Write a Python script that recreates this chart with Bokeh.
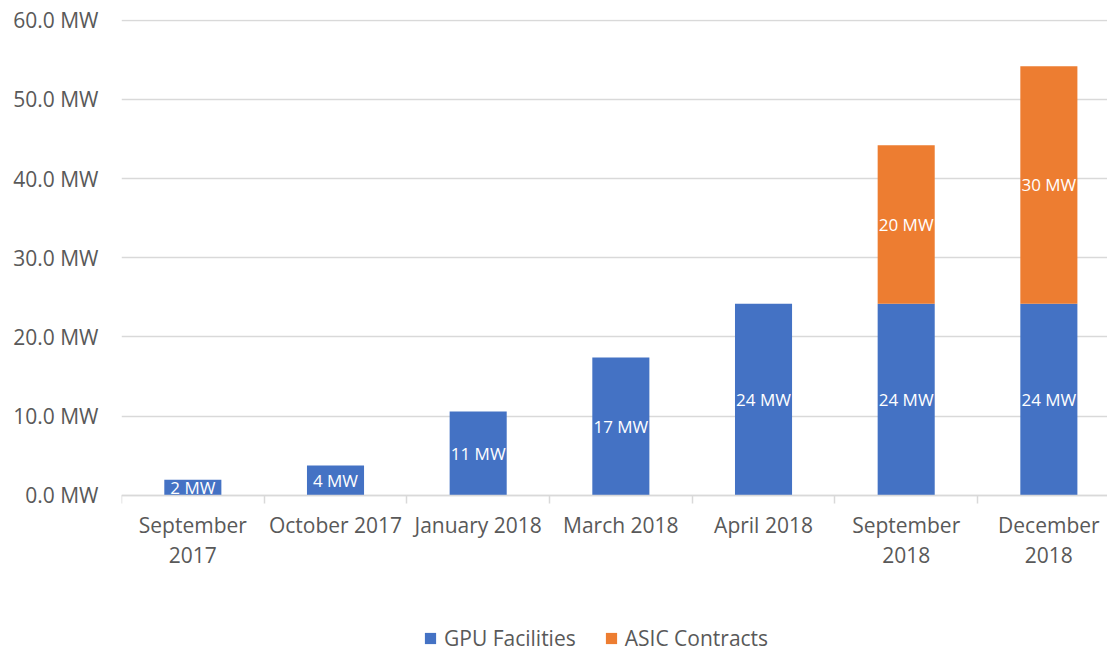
from bokeh.plotting import figure
from bokeh.models import ColumnDataSource, Range1d, FixedTicker, LabelSet, Legend, LegendItem
from bokeh.core.properties import value
from bokeh.embed import file_html
from bokeh.resources import INLINE

categories = ["September\n2017", "October 2017", "January 2018", "March 2018",
              "April 2018", "September\n2018", "December\n2018"]
gpu = [1.95, 3.76, 10.56, 17.4, 24.2, 24.2, 24.2]
asic = [0, 0, 0, 0, 0, 20.0, 30.0]
series_names = ["GPU Facilities", "ASIC Contracts"]
y_ticks = [0, 10, 20, 30, 40, 50, 60]

BLUE = "#4472C4"
ORANGE = "#ED7D31"
GRAY_TXT = "#595959"
GRID = "#D9D9D9"
FONT = "Open Sans"

x = [i + 0.5 for i in range(len(categories))]
src = ColumnDataSource(dict(x=x, gpu=gpu, asic=asic))

# the frame runs to the bottom of the canvas; the area below zero holds
# the category labels and the legend
p = figure(width=1107, height=653, output_backend="svg", toolbar_location=None,
           x_range=Range1d(0, 6.911), y_range=Range1d(-20.0, 60.1),
           min_border_left=121, min_border_right=0, min_border_top=19,
           min_border_bottom=0)
p.outline_line_color = None
p.background_fill_color = "white"

rs = p.vbar_stack(["gpu", "asic"], x="x", width=0.4, source=src,
                  color=[BLUE, ORANGE], line_color=None)

# labels
lx, ly, lt = [], [], []
for xi, g, a in zip(x, gpu, asic):
    if g > 0:
        lx.append(xi); ly.append(g / 2); lt.append(f"{round(g)} MW")
    if a > 0:
        lx.append(xi); ly.append(g + a / 2); lt.append(f"{round(a)} MW")
lab_src = ColumnDataSource(dict(x=lx, y=ly, t=lt))
labels = LabelSet(x="x", y="y", text="t", source=lab_src, text_color="white",
                  text_font=value(FONT), text_font_size="17px", text_align="center",
                  text_baseline="middle")
p.add_layout(labels)

# y axis
p.yaxis.ticker = FixedTicker(ticks=y_ticks)
p.yaxis.major_label_overrides = {t: f"{t:.1f} MW" for t in y_ticks}
p.yaxis.axis_line_color = None
p.yaxis.major_tick_line_color = None
p.yaxis.minor_tick_line_color = None
p.yaxis.major_label_standoff = 17
p.yaxis.major_label_text_font = FONT
p.yaxis.major_label_text_font_size = "21px"
p.yaxis.major_label_text_color = GRAY_TXT

# x axis, pinned at zero
p.xaxis.fixed_location = 0
p.xaxis.ticker = FixedTicker(ticks=x, minor_ticks=list(range(len(categories) + 1)))
p.xaxis.major_label_overrides = {xi: c for xi, c in zip(x, categories)}
p.xaxis.axis_line_color = GRID
p.xaxis.axis_line_width = 1.5
p.xaxis.major_tick_line_color = None
p.xaxis.minor_tick_line_color = GRID
p.xaxis.minor_tick_line_width = 1.5
p.xaxis.minor_tick_in = 0
p.xaxis.minor_tick_out = 8
p.xaxis.major_label_standoff = 8
p.xaxis.major_label_text_font = FONT
p.xaxis.major_label_text_font_size = "21px"
p.xaxis.major_label_text_color = GRAY_TXT
p.xaxis.major_label_text_line_height = 1.07

p.xgrid.grid_line_color = None
p.ygrid.grid_line_color = GRID
p.ygrid.grid_line_width = 1.3

# legend
lg = Legend(items=[LegendItem(label=n, renderers=[r]) for n, r in zip(series_names, rs)],
            orientation="horizontal", location=(302, 1),
            border_line_color=None, background_fill_alpha=0,
            spacing=28, label_standoff=7, glyph_width=14, glyph_height=14,
            label_text_font=FONT, label_text_font_size="21px",
            label_text_color=GRAY_TXT, margin=0, padding=0)
p.add_layout(lg)

open("out.html", "w").write(file_html(p, INLINE))
